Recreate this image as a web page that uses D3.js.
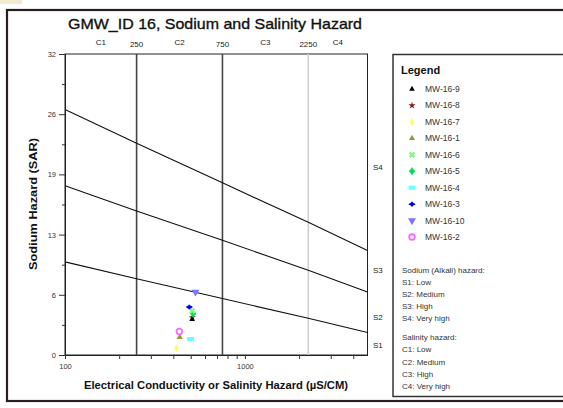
<!DOCTYPE html>
<html><head><meta charset="utf-8">
<script src="https://cdn.jsdelivr.net/npm/d3@7"></script>
<style>body{margin:0;background:#fff}svg{display:block}text{font-family:"Liberation Sans",Arial,sans-serif}</style>
</head><body>
<script>
// ---- data ----
const wells = ["MW-16-9","MW-16-8","MW-16-7","MW-16-1","MW-16-6","MW-16-5","MW-16-4","MW-16-3","MW-16-10","MW-16-2"];
const ecValues = [509, 510, 416, 434, 509, 515, 498, 491, 531, 432];
const sarValues = [3.8, 4.0, 0.7, 1.9, 4.7, 4.4, 1.7, 5.1, 6.7, 2.5];
const wellColors = ["#000000","#8b1a1a","#ffff66","#999933","#77ff77","#00dd55","#66ffff","#0000ff","#7777ff","#ff66ff"];
// SAR class boundary lines (EC, SAR)
const boundaryEC = [100, 250, 750, 2250, 4800];
const lineS1S2 = [9.9, 8.1, 6.0, 3.9, 2.4];
const lineS2S3 = [18.0, 15.3, 12.2, 9.0, 6.7];
const lineS3S4 = [26.1, 22.5, 18.3, 14.1, 11.1];
const salinityBounds = [250, 750, 2250];
const salinityClasses = ["C1","C2","C3","C4"];
const sodiumClasses = ["S1","S2","S3","S4"];
const sodiumClassSAR = [1.1, 4.0, 9.0, 20.0];
const yTickValues = [0, 6.4, 12.8, 19.2, 25.6, 32];
const yTickLabels = ["0","6","13","19","26","32"];
const yMinorTicks = [3.2, 9.6, 16, 22.4, 28.8];
const xTickValues = [100,200,300,400,500,600,700,800,900,1000,2000,3000,4000];
const xTickLabels = {100:"100", 1000:"1000"};
const notesSodium = ["Sodium (Alkali) hazard:","S1: Low","S2: Medium","S3: High","S4: Very high"];
const notesSalinity = ["Salinity hazard:","C1: Low","C2: Medium","C3: High","C4: Very high"];

const W = 563, H = 408;
const svg = d3.select("body").append("svg").attr("width", W).attr("height", H);

// small tan patch top-left
svg.append("rect").attr("x",0).attr("y",0).attr("width",22).attr("height",4).attr("fill","#f3ead0");
// outer frame
svg.append("rect").attr("x",7).attr("y",10).attr("width",600).attr("height",391)
  .attr("fill","none").attr("stroke","#2a1e1e").attr("stroke-width",2.2);

const x = d3.scaleLog().domain([100, 4800]).range([65, 367.5]);
const y = d3.scaleLinear().domain([0, 32]).range([355, 54]);

// title
svg.append("text").attr("x",215).attr("y",29).attr("text-anchor","middle")
  .attr("font-size",15).attr("fill","#111").attr("stroke","#111").attr("stroke-width",0.35)
  .attr("textLength",294).attr("lengthAdjust","spacingAndGlyphs")
  .text("GMW_ID  16, Sodium and Salinity Hazard");

// plot frame
svg.append("rect").attr("x",65).attr("y",54).attr("width",367.5-65).attr("height",355-54)
  .attr("fill","none").attr("stroke","#222").attr("stroke-width",1);

// salinity class vertical lines
svg.selectAll("line.sal").data(salinityBounds).join("line")
  .attr("x1",d=>x(d)).attr("x2",d=>x(d)).attr("y1",54).attr("y2",355)
  .attr("stroke",(d,i)=> i===2 ? "#cfcfcf" : "#444").attr("stroke-width",1.6);

// boundary lines
const line = d3.line().x(d=>x(d[0])).y(d=>y(d[1]));
[lineS1S2, lineS2S3, lineS3S4].forEach(arr=>{
  svg.append("path").attr("d", line(boundaryEC.map((e,i)=>[e,arr[i]])))
    .attr("fill","none").attr("stroke","#111").attr("stroke-width",1.1);
});

// top labels
const labelsG = svg.append("g").attr("font-size",8).attr("fill","#222").attr("text-anchor","middle");
const bounds = [100, ...salinityBounds, 4800];
salinityClasses.forEach((c,i)=>{
  const mid = Math.sqrt(bounds[i]*Math.min(bounds[i+1],5000));
  labelsG.append("text").attr("x",x(mid)).attr("y",45).text(c);
});
salinityBounds.forEach(b=>{
  labelsG.append("text").attr("x",x(b)).attr("y",47).text(String(b));
});
// right S labels
sodiumClasses.forEach((s,i)=>{
  svg.append("text").attr("x",373).attr("y",y(sodiumClassSAR[i])+3).attr("font-size",8).attr("fill","#222").text(s);
});

// axes
const yAxis = svg.append("g").attr("transform","translate(65,0)")
  .call(d3.axisLeft(y).tickValues(yTickValues).tickSize(6).tickSizeOuter(0).tickFormat((d,i)=>yTickLabels[i]));
const yMinor = svg.append("g").attr("transform","translate(65,0)")
  .call(d3.axisLeft(y).tickValues(yMinorTicks).tickSize(3).tickSizeOuter(0).tickFormat(""));
const xAxis = svg.append("g").attr("transform","translate(0,355)")
  .call(d3.axisBottom(x).tickValues(xTickValues).tickSize(4).tickSizeOuter(0).tickFormat(d=>xTickLabels[d]||""));
[yAxis,yMinor,xAxis].forEach(g=>{
  g.select(".domain").attr("stroke","#222");
  g.selectAll(".tick line").attr("stroke","#333");
  g.selectAll("text").attr("font-size",7.5).attr("fill","#333").attr("font-family","'Liberation Sans',Arial,sans-serif");
});
xAxis.selectAll("text").attr("dy","0.9em");

// axis titles
svg.append("text").attr("transform","translate(37,204) rotate(-90)").attr("text-anchor","middle")
  .attr("font-size",11).attr("font-weight","bold").attr("fill","#111").attr("textLength",132).attr("lengthAdjust","spacingAndGlyphs")
  .text("Sodium Hazard (SAR)");
svg.append("text").attr("x",216).attr("y",389).attr("text-anchor","middle")
  .attr("font-size",11).attr("font-weight","bold").attr("fill","#111").attr("textLength",264).attr("lengthAdjust","spacingAndGlyphs")
  .text("Electrical Conductivity or Salinity Hazard  (µS/CM)");

// marker drawing
function drawMarker(g, i, cx, cy){
  const c = wellColors[i];
  const sym = (type,size,rot)=> g.append("path").attr("d", d3.symbol().type(type).size(size)())
      .attr("transform",`translate(${cx},${cy}) rotate(${rot||0})`).attr("fill",c);
  switch(i){
    case 0: sym(d3.symbolTriangle,14); break;
    case 1: sym(d3.symbolStar,16); break;
    case 2: sym(d3.symbolDiamond,18); break;
    case 3: sym(d3.symbolTriangle,16); break;
    case 4: sym(d3.symbolCross,24,45); break;
    case 5: sym(d3.symbolDiamond,22); sym(d3.symbolCross,18); break;
    case 6: g.append("rect").attr("x",cx-3.5).attr("y",cy-2).attr("width",7).attr("height",4).attr("fill",c); break;
    case 7: sym(d3.symbolDiamond,16,90); sym(d3.symbolCross,12); break;
    case 8: sym(d3.symbolTriangle,28,180); break;
    case 9: g.append("circle").attr("cx",cx).attr("cy",cy).attr("r",2.8).attr("fill","#fff")
              .attr("stroke",c).attr("stroke-width",1.8); break;
  }
}
const pts = svg.append("g");
const drawOrder = [1,2,3,6,9,0,5,4,7,8];
drawOrder.forEach(i=> drawMarker(pts, i, x(ecValues[i]), y(sarValues[i])));

// legend box
svg.append("rect").attr("x",393).attr("y",54.5).attr("width",200).attr("height",342)
  .attr("fill","none").attr("stroke","#333").attr("stroke-width",1.5);
svg.append("text").attr("x",401).attr("y",74).attr("font-size",11).attr("font-weight","bold").attr("fill","#111").text("Legend");
const lg = svg.append("g");
wells.forEach((w,i)=>{
  const cy = 89 + i*16.45;
  drawMarker(lg, i, 412, cy);
  lg.append("text").attr("x",425).attr("y",cy+3).attr("font-size",8.5).attr("fill","#333").text(w);
});
notesSodium.forEach((t,i)=>{
  svg.append("text").attr("x",402).attr("y",273 + i*12).attr("font-size",8).attr("fill","#333").text(t);
});
notesSalinity.forEach((t,i)=>{
  svg.append("text").attr("x",402).attr("y",340 + i*12.3).attr("font-size",8).attr("fill","#333").text(t);
});
</script>
</body></html>
